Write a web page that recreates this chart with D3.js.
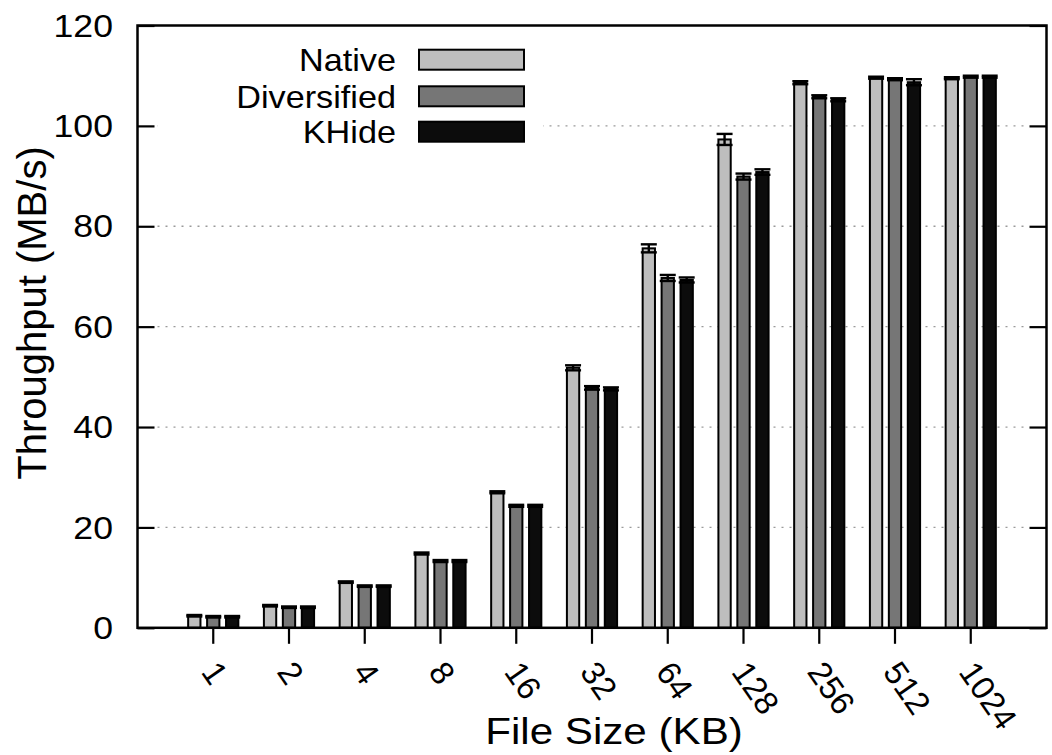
<!DOCTYPE html>
<html><head><meta charset="utf-8">
<script src="https://cdn.jsdelivr.net/npm/d3@7"></script>
<style>body{margin:0;background:#fff}svg{display:block}text{font-family:"Liberation Sans",Arial,sans-serif;fill:#000}</style>
</head><body><svg id="c" width="1052" height="755"></svg>
<script>
const categories = ["1","2","4","8","16","32","64","128","256","512","1024"];
const seriesNames = ["Native","Diversified","KHide"];
const nativeVals = [2.4,4.4,9.1,14.8,27.0,51.8,75.6,97.3,108.6,109.6,109.5];
const nativeErr  = [0.15,0.15,0.15,0.2,0.2,0.5,0.8,1.1,0.3,0.2,0.2];
const diversVals = [2.2,4.1,8.3,13.3,24.3,47.8,69.7,89.9,105.8,109.3,109.8];
const diversErr  = [0.15,0.15,0.15,0.2,0.2,0.35,0.6,0.6,0.3,0.2,0.2];
const khideVals  = [2.2,4.1,8.3,13.3,24.3,47.6,69.3,90.8,105.2,108.7,109.8];
const khideErr   = [0.15,0.15,0.15,0.2,0.2,0.3,0.5,0.55,0.3,0.6,0.2];
const yTicks = [0,20,40,60,80,100,120];
const gridTicks = [20,40,60,80,100];
const colors = ["#bebebe","#767676","#0c0c0c"];

const svg = d3.select("#c");
const L=137.5, R=1046.5, T=25.5, B=627.8;
const x = d3.scaleBand().domain(categories).range([L,R]).paddingInner(0).paddingOuter(0.5);
const step = x.step();
const xs = d3.scaleBand().domain(seriesNames).range([-0.375*step,0.375*step]).paddingInner(0.35).paddingOuter(0.175);
const y = d3.scaleLinear().domain([0,120]).range([B,T]);

const vals=[nativeVals,diversVals,khideVals], errs=[nativeErr,diversErr,khideErr];
const data=[];
categories.forEach((c,i)=>seriesNames.forEach((s,j)=>data.push({c,s,j,v:vals[j][i],e:errs[j][i]})));

// gridlines
svg.append("g").selectAll("line").data(gridTicks).join("line")
 .attr("x1",L+20).attr("x2",R-18).attr("y1",d=>y(d)).attr("y2",d=>y(d))
 .attr("stroke","#9a9a9a").attr("stroke-width",1.3).attr("stroke-dasharray","2,6");

// legend background
svg.append("rect").attr("x",L+20).attr("y",T+3).attr("width",543-L-20).attr("height",120).attr("fill","#fff");

// bars
const cx = d=>x(d.c)+x.bandwidth()/2+xs(d.s)+xs.bandwidth()/2;
svg.append("g").selectAll("rect").data(data).join("rect")
 .attr("x",d=>x(d.c)+x.bandwidth()/2+xs(d.s)).attr("width",xs.bandwidth())
 .attr("y",d=>y(d.v)).attr("height",d=>B-y(d.v))
 .attr("fill",d=>colors[d.j]).attr("stroke","#000").attr("stroke-width",2);

// error bars
const eg = svg.append("g").attr("stroke","#000").attr("stroke-width",2.4);
eg.selectAll(".ev").data(data).join("line").attr("class","ev")
 .attr("x1",cx).attr("x2",cx).attr("y1",d=>y(d.v-d.e)).attr("y2",d=>y(d.v+d.e));
eg.selectAll(".eh").data(data).join("line").attr("class","eh")
 .attr("x1",d=>cx(d)-8).attr("x2",d=>cx(d)+8).attr("y1",d=>y(d.v+d.e)).attr("y2",d=>y(d.v+d.e));
eg.selectAll(".el").data(data).join("line").attr("class","el")
 .attr("x1",d=>cx(d)-8).attr("x2",d=>cx(d)+8).attr("y1",d=>y(d.v-d.e)).attr("y2",d=>y(d.v-d.e));

// frame
svg.append("rect").attr("x",L).attr("y",T).attr("width",R-L).attr("height",B-T)
 .attr("fill","none").attr("stroke","#000").attr("stroke-width",2.5);

// y axis left & right
const yl = svg.append("g").attr("transform",`translate(${L},0)`)
 .call(d3.axisRight(y).tickValues(yTicks).tickSize(17).tickFormat(""));
const yr = svg.append("g").attr("transform",`translate(${R},0)`)
 .call(d3.axisLeft(y).tickValues(yTicks).tickSize(17).tickFormat(""));
[yl,yr].forEach(g=>{g.select(".domain").remove();g.selectAll("line").attr("stroke","#000").attr("stroke-width",2.2);});
svg.append("g").selectAll("text").data(yTicks).join("text")
 .attr("transform",d=>`translate(113,${y(d)}) scale(1.15,1)`).attr("dy","0.36em").attr("text-anchor","end")
 .style("font-size","31px").text(d=>d);

// x axis
const xa = svg.append("g").attr("transform",`translate(0,${B})`)
 .call(d3.axisBottom(x).tickSize(16).tickFormat(""));
xa.select(".domain").remove();
xa.selectAll("line").attr("stroke","#000").attr("stroke-width",2.2);
svg.append("g").selectAll("text").data(categories).join("text")
 .attr("transform",d=>`translate(${x(d)+x.bandwidth()/2-13},672) rotate(55)`)
 .attr("text-anchor","start").style("font-size","33px").text(d=>d);

// axis titles
svg.append("text").attr("transform","translate(46,313) rotate(-90)").attr("text-anchor","middle")
 .style("font-size","40px").text("Throughput (MB/s)");
svg.append("text").attr("transform","translate(614,744) scale(1.14,1)").attr("text-anchor","middle")
 .style("font-size","37px").text("File Size (KB)");

// legend
const lg = svg.append("g");
const ly = [59.7,96.3,131.7];
seriesNames.forEach((s,j)=>{
  lg.append("text").attr("transform",`translate(396,${ly[j]}) scale(1.07,1)`).attr("dy","0.36em").attr("text-anchor","end")
    .style("font-size","32px").text(s);
  lg.append("rect").attr("x",419).attr("y",ly[j]-10).attr("width",105).attr("height",20)
    .attr("fill",colors[j]).attr("stroke","#000").attr("stroke-width",2);
});
</script></body></html>
